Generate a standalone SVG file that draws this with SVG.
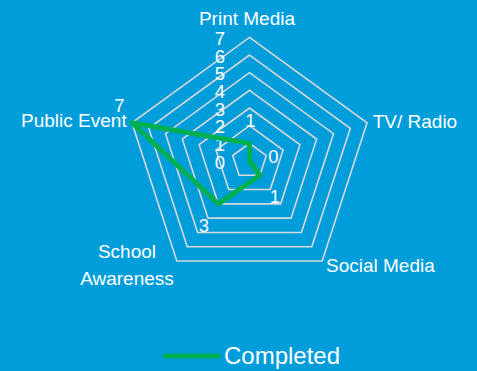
<svg xmlns="http://www.w3.org/2000/svg" width="477" height="371" viewBox="0 0 477 371">
<style>
.bg{fill:#009DDB}
.grid{fill:none;stroke:#D9D9D9;stroke-width:1.6}
.series{fill:none;stroke:#00B050;stroke-width:5;stroke-linejoin:round;stroke-linecap:round}
text{font-family:"Liberation Sans",Arial,sans-serif;fill:#FFFFFF}
.cat{font-size:19px}
.tick{font-size:18.5px;text-anchor:middle}
.dl{font-size:18.5px;text-anchor:middle}
.leg{font-size:24px}
</style>
<rect class="bg" x="0" y="0" width="477" height="371"/>
<g id="grid">
<polygon class="grid" points="249.5,143.34 266.30,155.54 259.88,175.29 239.12,175.29 232.70,155.54"/>
<polygon class="grid" points="249.5,125.68 283.09,150.09 270.26,189.57 228.74,189.57 215.91,150.09"/>
<polygon class="grid" points="249.5,108.02 299.89,144.63 280.64,203.86 218.36,203.86 199.11,144.63"/>
<polygon class="grid" points="249.5,90.36 316.68,139.17 291.02,218.15 207.98,218.15 182.32,139.17"/>
<polygon class="grid" points="249.5,72.7 333.48,133.72 301.40,232.44 197.60,232.44 165.52,133.72"/>
<polygon class="grid" points="249.5,55.04 350.28,128.26 311.78,246.72 187.22,246.72 148.72,128.26"/>
<polygon class="grid" points="249.5,37.38 367.07,122.80 322.17,261.01 176.83,261.01 131.93,122.80"/>
</g>
<g id="axis-ticks">
<text class="tick" x="220" y="45">7</text>
<text class="tick" x="220" y="62.7">6</text>
<text class="tick" x="220" y="80.3">5</text>
<text class="tick" x="220" y="98">4</text>
<text class="tick" x="220" y="115.6">3</text>
<text class="tick" x="220" y="133.3">2</text>
<text class="tick" x="220" y="151">1</text>
<text class="tick" x="220" y="168.6">0</text>
</g>
<g id="connectors">
<polygon class="series" points="249.5,143.34 249.5,161 259.88,175.29 218.36,203.86 131.93,122.80"/>
</g>
<g id="node-print-media">
<text class="cat" x="247" y="25" text-anchor="middle">Print Media</text>
<text class="dl" x="250.5" y="126.7">1</text>
</g>
<g id="node-tv-radio">
<text class="cat" x="372.7" y="128">TV/ Radio</text>
<text class="dl" x="273.3" y="162.7">0</text>
</g>
<g id="node-social-media">
<text class="cat" x="326" y="271.7">Social Media</text>
<text class="dl" x="275" y="203.3">1</text>
</g>
<g id="node-school-awareness">
<text class="cat" x="127" y="257.7" text-anchor="middle">School</text>
<text class="cat" x="127" y="285" text-anchor="middle">Awareness</text>
<text class="dl" x="204" y="231.7">3</text>
</g>
<g id="node-public-event">
<text class="cat" x="126.7" y="127.3" text-anchor="end">Public Event</text>
<text class="dl" x="119.3" y="111.7">7</text>
</g>
<g id="legend">
<line x1="165" y1="356" x2="218" y2="356" stroke="#00B050" stroke-width="5" stroke-linecap="round"/>
<text class="leg" x="224" y="364.3">Completed</text>
</g>
</svg>
